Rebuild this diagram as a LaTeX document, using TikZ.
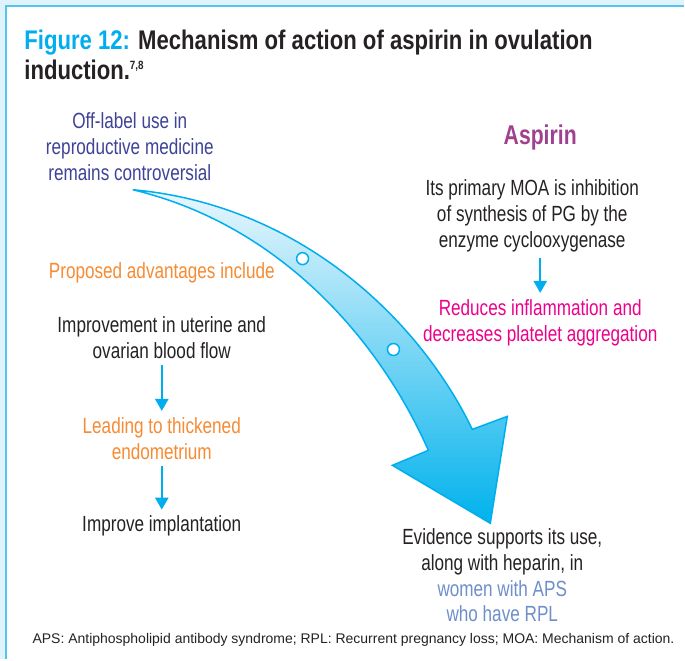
\documentclass[tikz,border=0pt]{standalone}
\usepackage{fontspec}
\setmainfont[FakeStretch=0.78]{Liberation Sans}
\newfontfamily\titlefont[FakeStretch=0.82]{Liberation Sans}
\newfontfamily\notefont{Liberation Sans}
\usetikzlibrary{arrows.meta}

\definecolor{figcyan}{HTML}{00AEEF}
\definecolor{figbg}{HTML}{E1F3FA}
\definecolor{figframe}{HTML}{55C5F0}
\definecolor{textdark}{HTML}{262223}
\definecolor{figindigo}{HTML}{3E4399}
\definecolor{figpurple}{HTML}{A0418F}
\definecolor{figorange}{HTML}{F68B33}
\definecolor{figmagenta}{HTML}{EC008C}
\definecolor{figperi}{HTML}{6E8FCB}
\definecolor{arrowlight}{HTML}{EAF7FD}
\definecolor{arrowdeep}{HTML}{00B2EC}

\begin{document}
\begin{tikzpicture}[x=0.5pt,y=-0.5pt]
    \tikzstyle{every node}=[inner sep=0pt]
    \tikzstyle{box text}=[align=center, font=\fontsize{11}{13}\selectfont, text=textdark]
    \tikzstyle{indigo text}=[box text, text=figindigo]
    \tikzstyle{orange text}=[box text, text=figorange]
    \tikzstyle{magenta text}=[box text, text=figmagenta]
    \tikzstyle{flow}=[draw=figcyan, line width=1.25pt, -{Triangle[width=6.5pt,length=6pt]}]
    \tikzstyle{dot}=[circle, draw=figcyan, fill=white, line width=0.75pt, minimum size=6pt]
    \def\colx{162}

    % Draw the frame
    \fill[figbg] (0,0) rectangle (685,660);
    \fill[white] (6,6) rectangle (685,660);
    \draw[figframe, line width=1pt] (685,6) -- (6,6) -- (6,660);

    % Title
    \node[anchor=base west, align=left, text=textdark,
          font=\titlefont\bfseries\fontsize{13.5}{15}\selectfont] (title) at (24,80)
        {\textcolor{figcyan}{Figure 12:} Mechanism of action of aspirin in ovulation\\
         induction.\textsuperscript{\fontsize{6}{6}\selectfont 7,8}};

    % The big curved arrow
    \shadedraw[draw=figcyan, line width=0.75pt, top color=arrowlight,
               middle color=arrowdeep!45!arrowlight, bottom color=arrowdeep]
        (133,190) .. controls (300,205) and (420,320) .. (473,430)
        -- (508,417) -- (491,524) -- (393,466) -- (429,451)
        .. controls (380,340) and (280,225) .. (133,190) -- cycle;
    \node[dot] (dot-1) at (303,259) {};
    \node[dot] (dot-2) at (394,350) {};

    % Left column
    \node[indigo text] (offlabel) at (130,147)
        {Off-label use in\\ reproductive medicine\\ remains controversial};
    \node[orange text] (proposed) at (\colx,273) {Proposed advantages include};
    \node[box text] (blood) at (\colx,338)
        {Improvement in uterine and\\ ovarian blood flow};
    \node[orange text] (thick) at (\colx,439) {Leading to thickened\\ endometrium};
    \node[box text] (implant) at (\colx,527) {Improve implantation};

    \foreach \src/\dst in {blood/thick, thick/implant}
        \draw[flow, shorten <=3pt, shorten >=3pt] (\src) -- (\dst);

    % Right column
    \node[font=\bfseries\fontsize{13.6}{15}\selectfont, text=figpurple] (aspirin) at (541,138) {Aspirin};
    \node[box text] (moa) at (533,216)
        {Its primary MOA is inhibition\\ of synthesis of PG by the\\ enzyme cyclooxygenase};
    \node[magenta text] (reduces) at (541,323)
        {Reduces inflammation and\\ decreases platelet aggregation};
    \draw[flow, shorten <=3pt, shorten >=3pt] (moa.south -| reduces) -- (reduces);

    \node[box text] (evidence) at (503,576)
        {Evidence supports its use,\\ along with heparin, in\\
         \textcolor{figperi}{women with APS}\\ \textcolor{figperi}{who have RPL}};

    % Footnote
    \node[font=\notefont\fontsize{7}{8}\selectfont, text=textdark] (note) at (354,641)
        {APS: Antiphospholipid antibody syndrome; RPL: Recurrent pregnancy loss; MOA: Mechanism of action.};
\end{tikzpicture}
\end{document}
